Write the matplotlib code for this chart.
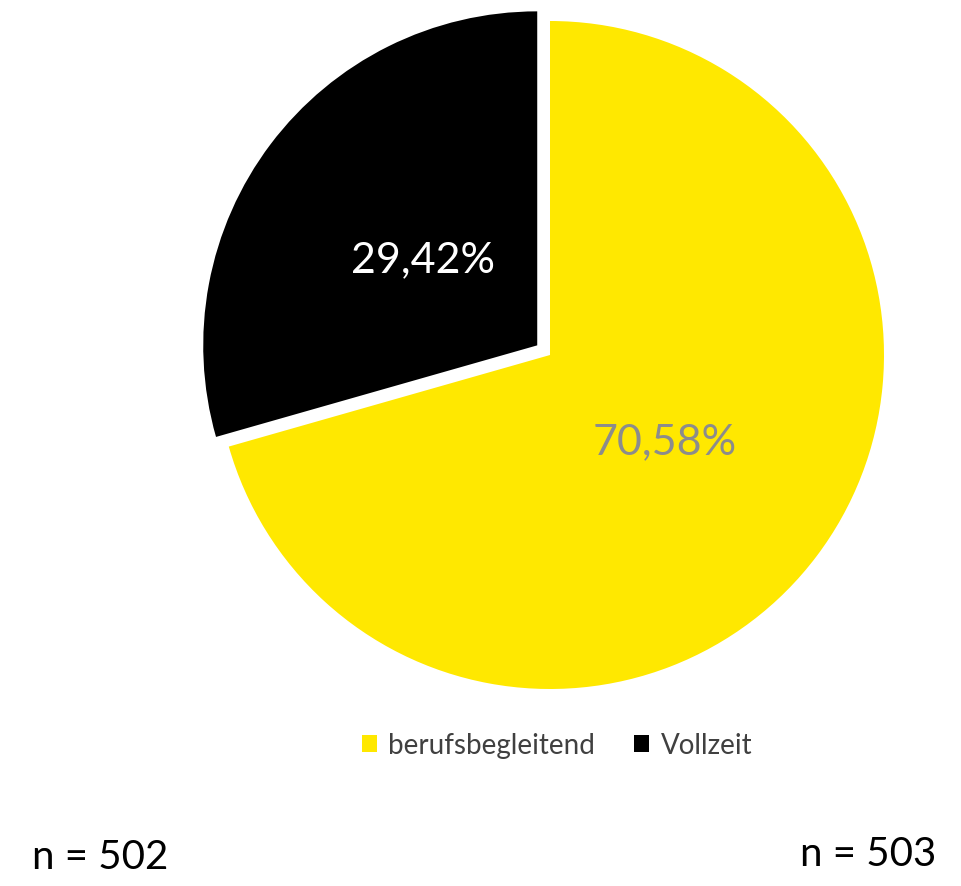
import matplotlib.pyplot as plt
from matplotlib.patches import Patch

labels = ["berufsbegleitend", "Vollzeit"]
shares = [70.58, 29.42]
colors = ["#FFE800", "#000000"]
label_colors = ["#8C8C8C", "#FFFFFF"]
n_left = "n = 502"
n_right = "n = 503"

plt.rcParams['font.family'] = ['Lato', 'DejaVu Sans']

fig = plt.figure(figsize=(9.61, 8.87), dpi=100)
ax = fig.add_axes([0, 0, 1, 1])

# explode offset is in data units (pixels here)
wedges, texts, autotexts = ax.pie(
    shares, colors=colors, explode=[0, 16], startangle=90, counterclock=False,
    center=(550, 531), radius=334, frame=True,
    autopct=lambda p: f"{p:.2f}%".replace(".", ","), pctdistance=0.43,
    wedgeprops=dict(linewidth=0))
ax.set_xlim(0, 961)
ax.set_ylim(0, 887)
ax.set_aspect('equal')
ax.axis('off')
for t, c in zip(autotexts, label_colors):
    t.set_color(c)
    t.set_fontsize(31)

handles = [Patch(facecolor=c, label=l) for c, l in zip(colors, labels)]
fig.legend(handles=handles, loc='center', bbox_to_anchor=(557 / 961, 1 - 746 / 887),
           ncol=2, frameon=False, fontsize=20, handlelength=0.55, handleheight=0.55,
           handletextpad=0.4, columnspacing=1.4, labelcolor='#404040')

fig.text(100 / 961, 1 - 858 / 887, n_left, fontsize=29, ha='center', va='center')
fig.text(868 / 961, 1 - 855 / 887, n_right, fontsize=29, ha='center', va='center')

fig.savefig("out.png", dpi=100)
